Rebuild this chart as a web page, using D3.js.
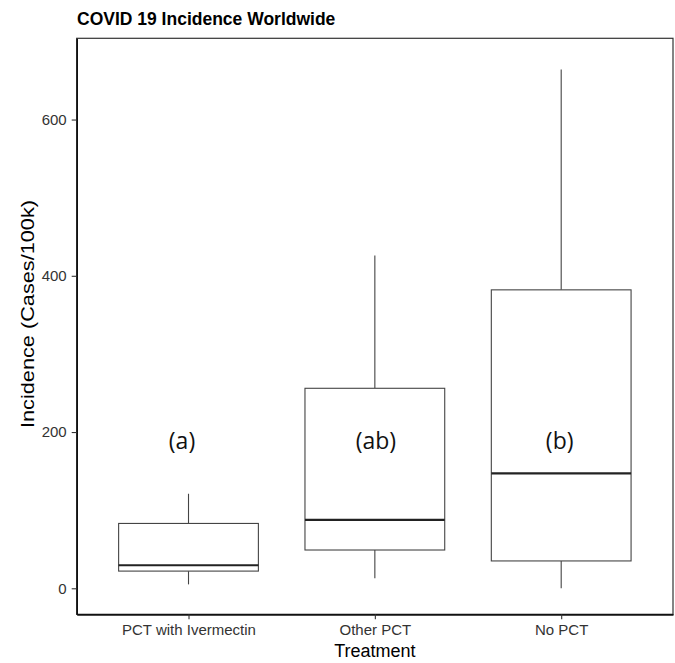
<!DOCTYPE html>
<html>
<head>
<meta charset="utf-8">
<script src="https://cdn.jsdelivr.net/npm/d3@7"></script>
<style>
  html, body { margin: 0; padding: 0; background: #fff; }
  svg { display: block; }
</style>
</head>
<body>
<svg id="chart" width="675" height="663"></svg>
<script>
// ---- data ----
const categories = ["PCT with Ivermectin", "Other PCT", "No PCT"];
const whiskerLow  = [5, 13, 0];
const q1          = [22, 49, 35];
const median      = [29.5, 87.5, 147];
const q3          = [83, 256, 382];
const whiskerHigh = [121, 426, 664];
const groupLabels = ["(a)", "(ab)", "(b)"];
const groupLabelValue = 190;
const yTicks = [0, 200, 400, 600];

const title = "COVID 19 Incidence Worldwide";
const xTitle = "Treatment";
const yTitle = "Incidence (Cases/100k)";

// ---- layout ----
const panel = { left: 76.7, right: 673, top: 38.3, bottom: 614.3 };

const svg = d3.select("#chart");

const x = d3.scalePoint()
  .domain(categories)
  .range([panel.left, panel.right])
  .padding(0.6);
const step = x.step();
const boxW = step * 0.75;

const y = d3.scaleLinear()
  .domain([-33.3, 704])
  .range([panel.bottom, panel.top]);

const data = categories.map((c, i) => ({
  cat: c, lo: whiskerLow[i], q1: q1[i], med: median[i], q3: q3[i], hi: whiskerHigh[i], label: groupLabels[i]
}));

// title
svg.append("text")
  .attr("x", 77).attr("y", 25)
  .attr("font-family", "Liberation Sans, Arial, sans-serif")
  .attr("font-weight", "bold")
  .attr("font-size", 17.5)
  .attr("fill", "#000")
  .text(title);

// boxes
const g = svg.append("g");
const boxes = g.selectAll("g.box").data(data).join("g").attr("class", "box");

boxes.append("line")
  .attr("x1", d => x(d.cat)).attr("x2", d => x(d.cat))
  .attr("y1", d => y(d.hi)).attr("y2", d => y(d.q3))
  .attr("stroke", "#444").attr("stroke-width", 1.1);
boxes.append("line")
  .attr("x1", d => x(d.cat)).attr("x2", d => x(d.cat))
  .attr("y1", d => y(d.q1)).attr("y2", d => y(d.lo))
  .attr("stroke", "#444").attr("stroke-width", 1.1);
boxes.append("rect")
  .attr("x", d => x(d.cat) - boxW / 2)
  .attr("width", boxW)
  .attr("y", d => y(d.q3))
  .attr("height", d => y(d.q1) - y(d.q3))
  .attr("fill", "#fff")
  .attr("stroke", "#444").attr("stroke-width", 1.1);
boxes.append("line")
  .attr("x1", d => x(d.cat) - boxW / 2).attr("x2", d => x(d.cat) + boxW / 2)
  .attr("y1", d => y(d.med)).attr("y2", d => y(d.med))
  .attr("stroke", "#222").attr("stroke-width", 2.2);

// group letters
svg.selectAll("text.grp").data(data).join("text")
  .attr("class", "grp")
  .attr("x", (d, i) => x(d.cat) + [-6.5, 1, -1.5][i])
  .attr("y", y(groupLabelValue) + 9)
  .attr("text-anchor", "middle")
  .attr("font-family", "Open Sans, Noto Sans, sans-serif")
  .attr("font-size", 23)
  .attr("fill", "#111")
  .text(d => d.label);

// panel border
svg.append("rect")
  .attr("x", panel.left).attr("y", panel.top)
  .attr("width", panel.right - panel.left)
  .attr("height", panel.bottom - panel.top)
  .attr("fill", "none")
  .attr("stroke", "#333").attr("stroke-width", 1.2);

// axes
const yAxis = d3.axisLeft(y).tickValues(yTicks).tickSize(5).tickSizeOuter(0).tickPadding(5);
const ya = svg.append("g").attr("transform", `translate(${panel.left},0)`).call(yAxis);
ya.select(".domain").attr("stroke", "#111").attr("stroke-width", 1.6);
ya.selectAll(".tick line").attr("stroke", "#333").attr("stroke-width", 1.1);
ya.selectAll(".tick text")
  .attr("font-family", "Liberation Sans, Arial, sans-serif")
  .attr("font-size", 15).attr("fill", "#333");

const xAxis = d3.axisBottom(x).tickSize(5).tickSizeOuter(0).tickPadding(5);
const xa = svg.append("g").attr("transform", `translate(0,${panel.bottom})`).call(xAxis);
xa.select(".domain").attr("stroke", "#111").attr("stroke-width", 1.8);
xa.selectAll(".tick line").attr("stroke", "#333").attr("stroke-width", 1.1);
xa.selectAll(".tick text")
  .attr("font-family", "Liberation Sans, Arial, sans-serif")
  .attr("font-size", 15).attr("fill", "#333");

// axis titles
svg.append("text")
  .attr("x", x(categories[1])).attr("y", 657)
  .attr("text-anchor", "middle")
  .attr("font-family", "Liberation Sans, Arial, sans-serif")
  .attr("font-size", 18).attr("fill", "#000")
  .text(xTitle);

svg.append("text")
  .attr("transform", "translate(34,314) rotate(-90)")
  .attr("text-anchor", "middle")
  .attr("font-family", "Liberation Sans, Arial, sans-serif")
  .attr("font-size", 19)
  .attr("textLength", 228)
  .attr("lengthAdjust", "spacingAndGlyphs")
  .attr("fill", "#000")
  .text(yTitle);
</script>
</body>
</html>
